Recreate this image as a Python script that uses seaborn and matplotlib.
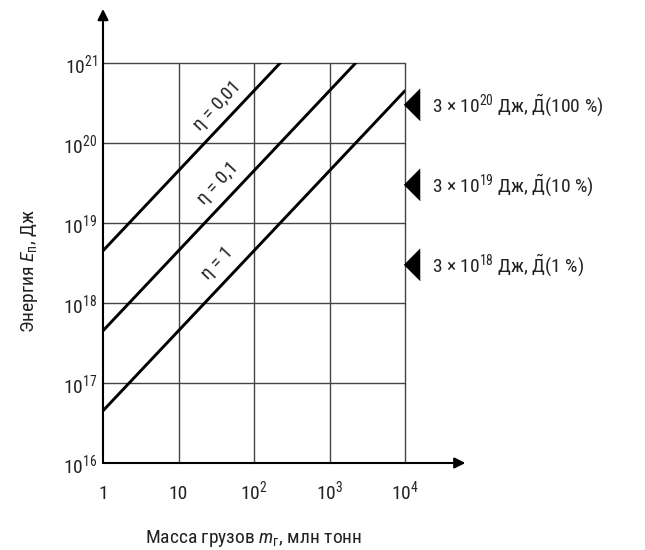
import matplotlib
matplotlib.use("Agg")
import matplotlib.pyplot as plt
import seaborn as sns
import pandas as pd

# Efficiency values and energy at m = 1 (mln t) for each line
etas = ["1", "0,1", "0,01"]
energy_at_unit_mass = [4.5e16, 4.5e17, 4.5e18]
mass_range = [1, 1e4]

# Reference energy levels marked on the right
ref_energy = [3e20, 3e19, 3e18]
ref_labels = ["100 %", "10 %", "1 %"]
ref_exponents = ["20", "19", "18"]

x_ticks = [1, 10, 1e2, 1e3, 1e4]
x_ticklabels = ["1", "10", "10$^2$", "10$^3$", "10$^4$"]
y_ticks = [1e16, 1e17, 1e18, 1e19, 1e20, 1e21]
y_ticklabels = ["10$^{16}$", "10$^{17}$", "10$^{18}$", "10$^{19}$", "10$^{20}$", "10$^{21}$"]

sns.set_style("white")
FONT = "Roboto Condensed"
plt.rcParams["font.family"] = [FONT, "DejaVu Sans"]
plt.rcParams["mathtext.fontset"] = "custom"
plt.rcParams["mathtext.rm"] = FONT
plt.rcParams["mathtext.it"] = FONT + ":italic"
plt.rcParams["mathtext.bf"] = FONT + ":bold"

TXT = "#222222"
FS = 14

fig = plt.figure(figsize=(6.45, 5.5), dpi=100)
ax = fig.add_axes([103 / 645, 87 / 550, 302 / 645, 400 / 550])

# Lines E = E1 * m (slope 1 on log-log)
rows = []
for eta, e1 in zip(etas, energy_at_unit_mass):
    for m in mass_range:
        rows.append({"m": m, "E": e1 * m, "eta": eta})
df = pd.DataFrame(rows)
sns.lineplot(data=df, x="m", y="E", units="eta", estimator=None,
             color="black", lw=2.1, ax=ax, legend=False)

ax.set_xscale("log")
ax.set_yscale("log")
ax.set_xlim(1, 1e4)
ax.set_ylim(1e16, 1e21)

# Grid
for xv in x_ticks[1:]:
    ax.axvline(xv, color="#444444", lw=1.0, zorder=0, clip_on=False)
for yv in y_ticks[1:]:
    ax.axhline(yv, color="#444444", lw=1.0, zorder=0, clip_on=False)

for s in ["top", "right", "left", "bottom"]:
    ax.spines[s].set_visible(False)

# Axes with arrows
ax.annotate("", xy=(0, 1.135), xytext=(0, 0), xycoords="axes fraction",
            arrowprops=dict(arrowstyle="-|>", color="black", lw=1.5,
                            mutation_scale=16, shrinkA=0, shrinkB=0))
ax.annotate("", xy=(1.2, 0), xytext=(0, 0), xycoords="axes fraction",
            arrowprops=dict(arrowstyle="-|>", color="black", lw=1.5,
                            mutation_scale=16, shrinkA=0, shrinkB=0))

ax.set_xticks(x_ticks)
ax.set_xticklabels(x_ticklabels)
ax.set_yticks(y_ticks)
ax.set_yticklabels(y_ticklabels)
ax.minorticks_off()
ax.tick_params(length=0, labelsize=FS, colors=TXT)
ax.tick_params(axis="x", pad=26)
ax.tick_params(axis="y", pad=4)
# Common baseline for plain and superscripted x tick labels
for t in ax.get_xticklabels():
    t.set_verticalalignment("baseline")

ax.set_xlabel("Масса грузов $\\mathit{m}_{\\mathrm{г}}$, млн тонн", fontsize=FS,
              color=TXT)
ax.xaxis.set_label_coords(0.5, -0.163)
ax.set_ylabel("Энергия $\\mathit{E}_{\\mathrm{п}}$, Дж", fontsize=FS, color=TXT)
ax.yaxis.set_label_coords(-0.21, 0.48)

# Line labels
label_pos = [(33, 10 ** 18.5), (33, 10 ** 19.5), (33, 10 ** 20.47)]
for eta, (lx, ly) in zip(etas, label_pos):
    ax.text(lx, ly, f"η = {eta}", rotation=46.7, rotation_mode="anchor",
            ha="center", va="center", fontsize=FS, color=TXT)

# Reference level markers and labels
mk = pd.DataFrame({"m": [1.24e4] * 3, "E": ref_energy})
tri = [(-1, 0), (1, 2.0), (1, -2.0), (-1, 0)]
sns.scatterplot(data=mk, x="m", y="E", marker=tri, s=560, color="black",
                edgecolor="none", ax=ax, clip_on=False, legend=False, zorder=5)
for e, lab, ex in zip(ref_energy, ref_labels, ref_exponents):
    ax.text(2.3e4, e,
            f"3 × 10$^{{{ex}}}$ Дж, $\\tilde{{\\mathrm{{Д}}}}$({lab})",
            ha="left", va="center", fontsize=FS, color=TXT, clip_on=False)

fig.savefig("out.png", dpi=100)
